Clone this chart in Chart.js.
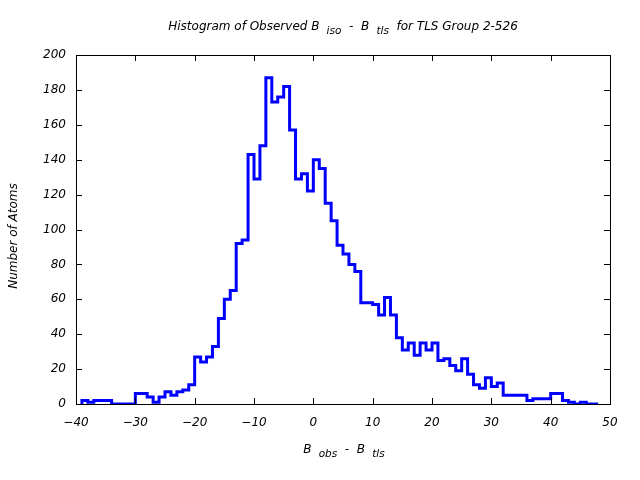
<!DOCTYPE html>
<html>
<head>
<meta charset="utf-8">
<script src="https://cdn.jsdelivr.net/npm/chart.js@4"></script>
<style>
html,body{margin:0;padding:0;background:#fff;}
canvas{display:block;}
</style>
</head>
<body>
<canvas id="c" width="640" height="480"></canvas>
<script>
// Histogram bins: left edge of first bin and bin width (B_obs - B_tls units)
const binStart = -39;
const binWidth = 1;
// Counts per bin (bins -39 .. 47)
const counts = [
  2, 1, 2, 2, 2, 0, 0, 0, 0, 6,
  6, 4, 1, 4, 7, 5, 7, 8, 11, 27,
  24, 27, 33, 49, 60, 65, 92, 94, 143, 129,
  148, 187, 173, 176, 182, 157, 129, 132, 122, 140,
  135, 115, 105, 91, 86, 80, 76, 58, 58, 57,
  51, 61, 51, 38, 31, 35, 28, 35, 31, 35,
  25, 26, 22, 19, 26, 17, 11, 9, 15, 10,
  12, 5, 5, 5, 5, 2, 3, 3, 3, 6,
  6, 2, 1, 0, 1, 0, 0
];
const xTicks = [-40, -30, -20, -10, 0, 10, 20, 30, 40, 50];
const yTicks = [0, 20, 40, 60, 80, 100, 120, 140, 160, 180, 200];

const titleParts = [
  {t: "Histogram of Observed B "}, {t: " iso", sub: true},
  {t: "  -  B "}, {t: " tls", sub: true},
  {t: "  for TLS Group 2-526"}
];
const xLabelParts = [
  {t: "B "}, {t: " obs", sub: true}, {t: "  -  B "}, {t: " tls", sub: true}
];
const yLabel = "Number of Atoms";

// Build stepped outline points from the bins
const points = [{x: binStart, y: 0}];
counts.forEach((c, i) => points.push({x: binStart + i * binWidth, y: c}));
points.push({x: binStart + counts.length * binWidth, y: 0});

const FONT = '"DejaVu Sans", "Liberation Sans", sans-serif';

function drawRich(ctx, parts, cx, cy) {
  const mainF = 'italic 12px ' + FONT;
  const subF = 'italic 10.5px ' + FONT;
  let total = 0;
  parts.forEach(p => { ctx.font = p.sub ? subF : mainF; total += ctx.measureText(p.t).width; });
  let x = cx - total / 2;
  ctx.textBaseline = 'middle';
  ctx.textAlign = 'left';
  parts.forEach(p => {
    ctx.font = p.sub ? subF : mainF;
    ctx.fillText(p.t, x, p.sub ? cy + 4 : cy);
    x += ctx.measureText(p.t).width;
  });
}

const decor = {
  id: 'decor',
  afterDraw(chart) {
    const ctx = chart.ctx;
    const a = chart.chartArea;
    const xs = chart.scales.x, ys = chart.scales.y;
    ctx.save();
    ctx.strokeStyle = '#000';
    ctx.lineWidth = 1;
    ctx.strokeRect(Math.round(a.left) + 0.5, Math.round(a.top) + 0.5,
                   Math.round(a.right - a.left), Math.round(a.bottom - a.top));
    const tl = 6;
    ctx.beginPath();
    xTicks.forEach(v => {
      const px = Math.round(xs.getPixelForValue(v)) + 0.5;
      ctx.moveTo(px, a.bottom); ctx.lineTo(px, a.bottom - tl);
      ctx.moveTo(px, a.top); ctx.lineTo(px, a.top + tl);
    });
    yTicks.forEach(v => {
      const py = Math.round(ys.getPixelForValue(v)) + 0.5;
      ctx.moveTo(a.left, py); ctx.lineTo(a.left + tl, py);
      ctx.moveTo(a.right, py); ctx.lineTo(a.right - tl, py);
    });
    ctx.stroke();
    ctx.fillStyle = '#000';
    drawRich(ctx, titleParts, 343, 27);
    drawRich(ctx, xLabelParts, 344, 450);
    ctx.translate(14, 236);
    ctx.rotate(-Math.PI / 2);
    ctx.font = 'italic 12px ' + FONT;
    ctx.textAlign = 'center';
    ctx.textBaseline = 'middle';
    ctx.fillText(yLabel, 0, 0);
    ctx.restore();
  }
};

const fmt = v => (v < 0 ? '\u2212' + Math.abs(v) : String(v));

new Chart(document.getElementById('c'), {
  type: 'line',
  data: {
    datasets: [{
      data: points,
      stepped: 'before',
      borderColor: '#0000ff',
      borderWidth: 3,
      pointRadius: 0,
      fill: false,
      tension: 0
    }]
  },
  options: {
    responsive: false,
    animation: false,
    layout: {padding: {left: 0, right: 30, top: 55, bottom: 0}},
    plugins: {legend: {display: false}, tooltip: {enabled: false}, title: {display: false}},
    scales: {
      x: {
        type: 'linear', min: -40, max: 50,
        afterBuildTicks: s => { s.ticks = xTicks.map(v => ({value: v})); },
        ticks: {color: '#000', font: {family: FONT, size: 12, style: 'italic'}, padding: 12, maxRotation: 0, autoSkip: false, callback: fmt},
        grid: {display: false, drawTicks: false},
        border: {display: false},
        afterFit: s => { s.height = 76; }
      },
      y: {
        type: 'linear', min: 0, max: 200,
        afterBuildTicks: s => { s.ticks = yTicks.map(v => ({value: v})); },
        ticks: {color: '#000', font: {family: FONT, size: 12, style: 'italic'}, padding: 10, autoSkip: false, callback: fmt},
        grid: {display: false, drawTicks: false},
        border: {display: false},
        afterFit: s => { s.width = 76; }
      }
    }
  },
  plugins: [decor]
});
</script>
</body>
</html>
